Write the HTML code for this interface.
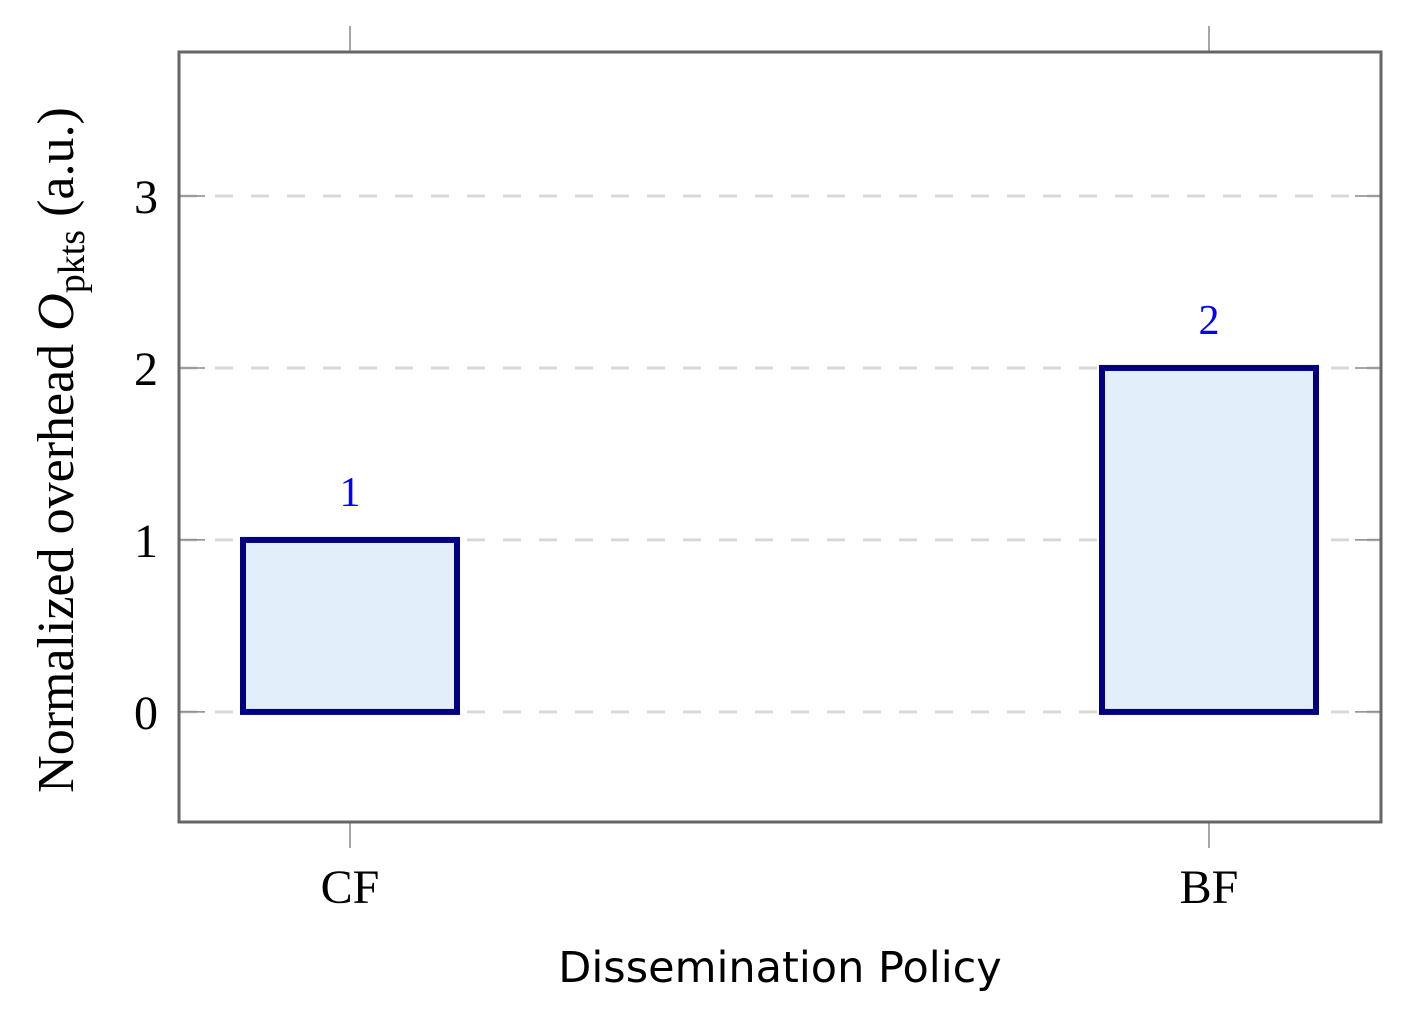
<!DOCTYPE html>
<html><head><meta charset="utf-8"><style>
html,body{margin:0;padding:0;background:#fff;}
svg{display:block;}
</style></head><body>
<svg id="chart" width="1414" height="1013" viewBox="0 0 1414 1013" xmlns="http://www.w3.org/2000/svg">
<g id="grid"></g>
<g id="bars"></g>
<g id="axes"></g>
<text x="780" y="982" text-anchor="middle" font-family="DejaVu Sans, Liberation Sans, sans-serif" font-size="43" fill="#000">Dissemination Policy</text>
<text transform="translate(73,450) rotate(-90)" text-anchor="middle" font-family="Liberation Serif, serif" font-size="52" fill="#000">Normalized overhead <tspan font-style="italic">O</tspan><tspan font-size="38" dy="11">pkts</tspan><tspan dy="-11"> (a.u.)</tspan></text>
</svg>
<script>
const categories = ["CF", "BF"];
const values = [1, 2];
const valueLabels = ["1", "2"];
const yTicks = [0, 1, 2, 3];
const yTickLabels = ["0", "1", "2", "3"];

const NS = "http://www.w3.org/2000/svg";
const L = 179, R = 1381, T = 52, B = 822;
const yMin = -0.64, yMax = 3.837;
const yScale = v => B - (v - yMin) / (yMax - yMin) * (B - T);
const xPos = [350, 1209];
const xScale = i => xPos[0] + (xPos[1] - xPos[0]) * i / (categories.length - 1);
const barW = 214;

function mk(tag, attrs, parent) {
  const e = document.createElementNS(NS, tag);
  for (const k in attrs) e.setAttribute(k, attrs[k]);
  parent.appendChild(e);
  return e;
}
const grid = document.getElementById('grid');
const bars = document.getElementById('bars');
const axes = document.getElementById('axes');

yTicks.forEach((t, i) => {
  const y = yScale(t);
  const g = mk('line', {x1: L, x2: R, y1: y, y2: y, stroke: '#d9d9d9', 'stroke-width': 3, 'stroke-dasharray': '18 18'}, grid);
  
  
  const tl = mk('line', {x1: L, x2: L + 26, y1: y, y2: y, stroke: '#888', 'stroke-width': 1.5}, axes);
  
  
  const tr = mk('line', {x1: R - 26, x2: R, y1: y, y2: y, stroke: '#888', 'stroke-width': 1.5}, axes);
  
  
  const lb = mk('text', {x: 158, y: y + 17, 'text-anchor': 'end', 'font-family': 'Liberation Serif, serif', 'font-size': 48, fill: '#000'}, axes);
  lb.textContent = yTickLabels[i];
  
  
});

categories.forEach((c, i) => {
  const x = xScale(i);
  const y0 = yScale(0), y1 = yScale(values[i]);
  const r = mk('rect', {x: x - barW / 2, y: y1, width: barW, height: y0 - y1, fill: '#e3eefb', stroke: '#000080', 'stroke-width': 6}, bars);
  
  
  const vl = mk('text', {x: x, y: y1 - 34, 'text-anchor': 'middle', 'font-family': 'Liberation Serif, serif', 'font-size': 42, fill: '#0000ff'}, bars);
  vl.textContent = valueLabels[i];
  
  
  const tb = mk('line', {x1: x, x2: x, y1: B, y2: B + 26, stroke: '#888', 'stroke-width': 1.5}, axes);
  
  
  const tt = mk('line', {x1: x, x2: x, y1: T - 26, y2: T, stroke: '#888', 'stroke-width': 1.5}, axes);
  
  
  const xl = mk('text', {x: x, y: 903, 'text-anchor': 'middle', 'font-family': 'Liberation Serif, serif', 'font-size': 48, fill: '#000'}, axes);
  xl.textContent = c;
  
  
});

const frame = mk('rect', {x: L, y: T, width: R - L, height: B - T, fill: 'none', stroke: '#666', 'stroke-width': 3}, axes);


</script>
</body></html>
